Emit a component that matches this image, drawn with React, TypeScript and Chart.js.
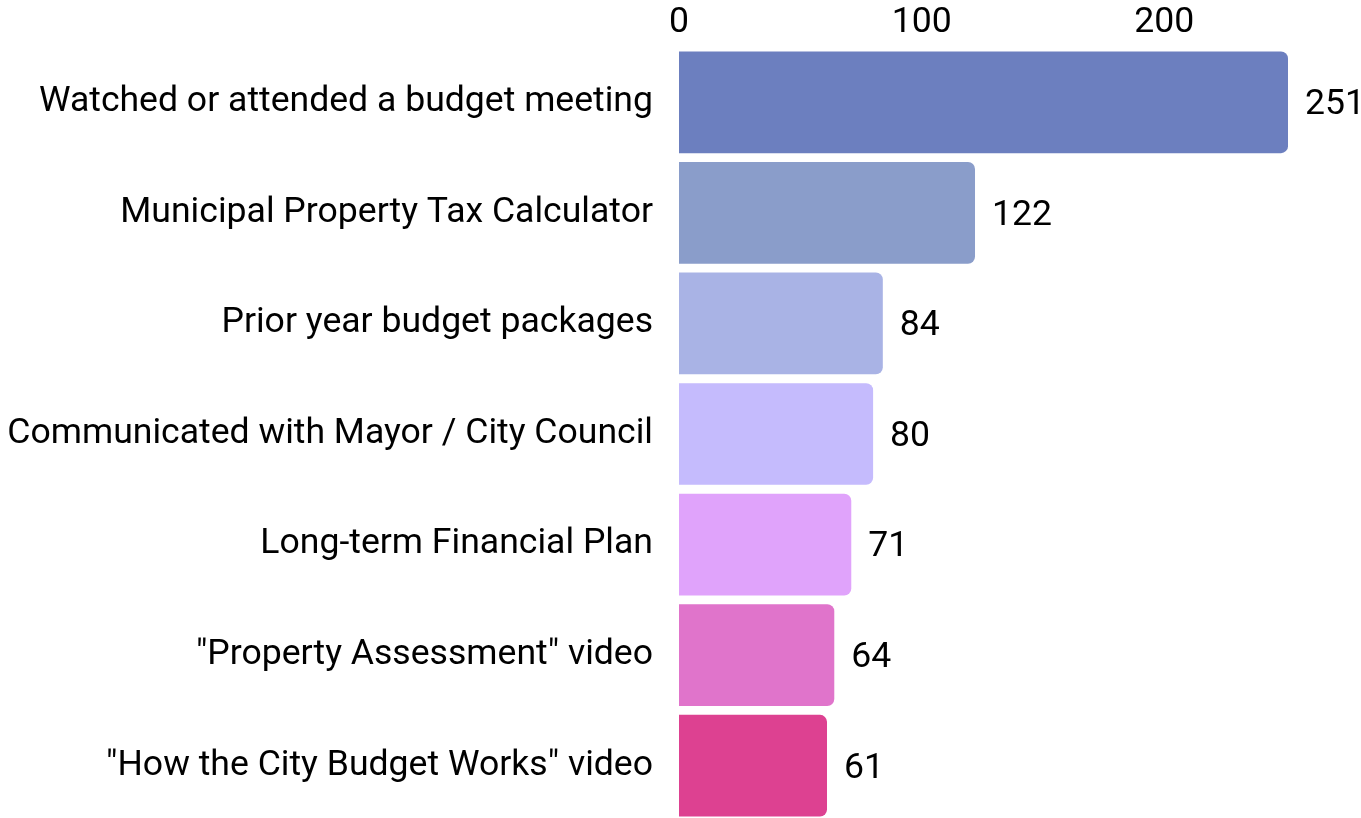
import React, { useEffect, useRef } from "react";
import { Chart, registerables } from "chart.js";

Chart.register(...registerables);

const categories = [
  "Watched or attended a budget meeting",
  "Municipal Property Tax Calculator",
  "Prior year budget packages",
  "Communicated with Mayor / City Council",
  "Long-term Financial Plan",
  "\"Property Assessment\" video",
  "\"How the City Budget Works\" video",
];
const values = [251, 122, 84, 80, 71, 64, 61];
const barColors = ["#6c7fbf", "#8a9dca", "#a9b3e5", "#c5bbfd", "#e0a3fb", "#e074cb", "#dd4191"];
const tickValues = [0, 100, 200];

const FONT = "Roboto, 'Noto Sans', sans-serif";
const FS = 35.6;

const valueLabels = {
  id: "valueLabels",
  afterDatasetsDraw(chart: any) {
    const ctx = chart.ctx;
    const meta = chart.getDatasetMeta(0);
    ctx.save();
    ctx.font = `${FS}px ${FONT}`;
    ctx.fillStyle = "#000";
    ctx.textAlign = "left";
    ctx.textBaseline = "middle";
    meta.data.forEach((bar: any, i: number) => {
      ctx.fillText(String(values[i]), bar.x + 17, bar.y + 3);
    });
    ctx.restore();
  },
};

export default function App() {
  const ref = useRef<HTMLCanvasElement>(null);
  useEffect(() => {
    document.body.style.margin = "0";
    document.body.style.overflow = "hidden";
    const chart = new Chart(ref.current!, {
      type: "bar",
      data: {
        labels: categories,
        datasets: [
          {
            data: values,
            backgroundColor: barColors,
            borderRadius: { topLeft: 0, bottomLeft: 0, topRight: 7, bottomRight: 7 },
            borderSkipped: false,
            barPercentage: 0.92,
            categoryPercentage: 1,
          },
        ],
      },
      options: {
        indexAxis: "y",
        animation: false,
        responsive: true,
        maintainAspectRatio: false,
        layout: { padding: { left: 0, right: 73, top: 0, bottom: 0 } },
        plugins: { legend: { display: false }, tooltip: { enabled: false } },
        scales: {
          x: {
            position: "top",
            min: 0,
            max: 251,
            grid: { display: false, drawTicks: false },
            border: { display: false },
            ticks: {
              stepSize: 100,
              color: "#000",
              font: { family: FONT, size: FS },
              padding: 3,
              maxRotation: 0,
            },
            afterBuildTicks: (scale: any) => {
              scale.ticks = tickValues.map((v) => ({ value: v }));
            },
            afterFit: (scale: any) => {
              scale.height = 47;
              scale.paddingLeft = 0;
              scale.paddingRight = 0;
            },
          },
          y: {
            grid: { display: false, drawTicks: false },
            border: { display: false },
            ticks: {
              color: "#000",
              font: { family: FONT, size: FS },
              padding: 26,
            },
            afterFit: (scale: any) => {
              scale.width = 679;
              scale.paddingTop = 0;
              scale.paddingBottom = 0;
            },
          },
        },
      },
      plugins: [valueLabels],
    });
    return () => chart.destroy();
  }, []);
  return (
    <div style={{ position: "absolute", left: 0, top: 0, width: 1361, height: 821 }}>
      <canvas ref={ref} />
    </div>
  );
}
